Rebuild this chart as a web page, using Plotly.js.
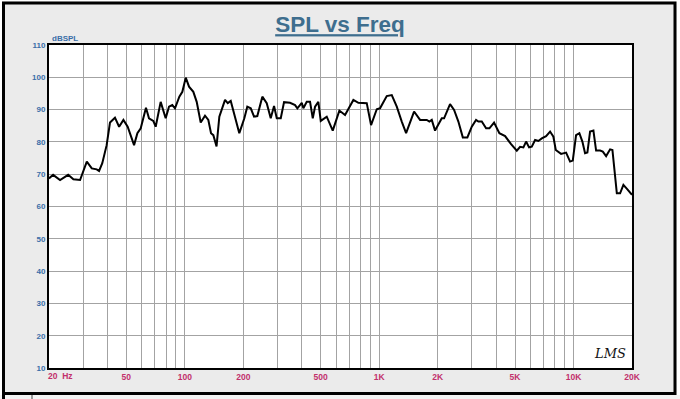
<!DOCTYPE html>
<html>
<head>
<meta charset="utf-8">
<script src="https://cdn.plot.ly/plotly-3.0.1.min.js"></script>
<style>
  html, body { margin: 0; padding: 0; background: #ffffff; }
  #chart { width: 680px; height: 399px; }
</style>
</head>
<body>
<div id="chart"></div>
<script>
// ---- data ----
const freqHz = [20.0, 21.0, 22.8, 25.1, 26.7, 28.9, 31.3, 33.2, 35.2, 36.2, 37.6, 39.6, 41.2, 43.7, 45.9, 48.3, 50.8, 54.8, 57.0, 59.3,
  63.1, 65.4, 68.8, 70.8, 75.1, 79.7, 82.9, 86.2, 89.0, 93.7, 97.1, 101.1, 105.1, 110.6, 115.1, 120.7, 127.0, 132.1, 136.4, 140.2,
  145.6, 150.5, 161.0, 166.3, 172.3, 181.3, 190.7, 202.4, 209.6, 218.4, 227.1, 236.0, 250.5, 263.9, 276.7, 287.8, 297.2, 311.6, 324.0, 347.8,
  369.2, 379.4, 399.7, 407.3, 424.0, 440.9, 455.3, 467.8, 486.4, 500.5, 537.4, 576.9, 624.0, 667.6, 736.6, 781.6, 863.2, 908.3, 972.0, 1010,
  1094, 1161, 1232, 1307, 1376, 1512, 1624, 1758, 1813, 1865, 1939, 2100, 2158, 2316, 2430, 2556, 2694, 2844, 2996, 3152,
  3240, 3373, 3550, 3692, 3902, 4155, 4447, 4773, 5107, 5311, 5523, 5702, 5908, 6100, 6344, 6596, 6869, 7228, 7577, 7880,
  8106, 8632, 9159, 9603, 9915, 10310, 10720, 11110, 11470, 11790, 12170, 12660, 13070, 13710, 14150, 14720, 15430, 15860, 16710, 17370,
  18060, 18940, 20000];
const splDb = [68.7, 69.8, 68.2, 69.8, 68.4, 68.2, 73.9, 71.8, 71.5, 71.0, 73.4, 79.0, 86.0, 87.5, 84.7, 86.8, 84.7, 79.0, 82.7, 84.2,
  90.6, 87.3, 86.5, 84.7, 92.4, 87.3, 90.9, 91.4, 90.4, 94.0, 95.5, 99.9, 97.1, 95.5, 92.4, 86.0, 88.1, 86.8, 82.7, 82.1,
  78.6, 87.8, 93.0, 92.0, 92.7, 87.3, 82.7, 87.3, 90.9, 90.4, 87.8, 88.0, 94.0, 92.0, 87.3, 91.1, 87.3, 87.3, 92.3, 92.1,
  91.4, 90.4, 92.1, 90.4, 92.4, 92.4, 87.3, 90.9, 92.4, 86.5, 87.8, 83.5, 89.7, 88.3, 93.0, 92.1, 92.0, 85.2, 90.1, 90.4,
  94.2, 94.5, 90.9, 86.3, 82.7, 89.4, 86.8, 86.8, 86.3, 86.8, 83.5, 87.3, 87.3, 91.7, 89.9, 86.3, 81.4, 81.4, 84.7, 86.8,
  86.3, 86.3, 84.2, 84.2, 86.0, 82.7, 81.8, 79.3, 77.3, 78.5, 78.3, 80.1, 78.3, 78.5, 80.6, 80.3, 81.1, 81.8, 83.2, 81.6,
  77.5, 76.3, 76.7, 73.9, 74.2, 82.1, 82.7, 80.1, 76.5, 76.7, 83.2, 83.5, 77.3, 77.3, 77.0, 75.6, 77.7, 77.5, 64.1, 64.1,
  66.7, 65.3, 63.6];

const xTickVals = [50, 100, 200, 500, 1000, 2000, 5000, 10000, 20000];
const xTickText = ['50', '100', '200', '500', '1K', '2K', '5K', '10K', '20K'];
const xGridVals = [20, 30, 40, 50, 60, 70, 80, 90, 100, 200, 300, 400, 500, 600, 700, 800, 900,
  1000, 2000, 3000, 4000, 5000, 6000, 7000, 8000, 9000, 10000, 20000];
const yTickVals = [10, 20, 30, 40, 50, 60, 70, 80, 90, 100, 110];
const firstXLabel = '20&nbsp; Hz';
const yUnitLabel = 'dBSPL';
const chartTitle = 'SPL vs Freq';
const logoText = 'LMS';

// ---- layout geometry (pixels) ----
const W = 680, H = 399, ML = 49, MR = 48, MT = 45, MB = 31;
const PW = W - ML - MR, PH = H - MT - MB;
const px = x => (x - ML) / PW;
const py = y => (H - MB - y) / PH;

const FONT = '"Liberation Sans", Arial, sans-serif';
const BLUE = '#3a6ea8';
const MAG = '#c2306c';
const GRID = '#a3a3a3';

const trace = {
  x: freqHz, y: splDb, type: 'scatter', mode: 'lines',
  line: { color: '#000000', width: 2 },
  hoverinfo: 'skip'
};

const layout = {
  width: W, height: H,
  margin: { l: ML, r: MR, t: MT, b: MB, pad: 0 },
  paper_bgcolor: '#ebebeb',
  plot_bgcolor: '#ffffff',
  showlegend: false,
  font: { family: FONT },
  title: {
    text: '<u><b>' + chartTitle + '</b></u>',
    font: { family: FONT, size: 22.5, color: '#3e6e8e' },
    x: 0.5, xanchor: 'center', xref: 'container',
    y: 1 - 24.3 / H, yanchor: 'middle', yref: 'container'
  },
  xaxis: {
    type: 'log',
    range: [Math.log10(20), Math.log10(20000)],
    tickmode: 'array', tickvals: xTickVals, ticktext: xTickText,
    ticks: '', showgrid: true, gridcolor: GRID, gridwidth: 1,
    minor: { tickmode: 'array', tickvals: xGridVals, showgrid: true, gridcolor: GRID, gridwidth: 1, ticks: '' },
    showline: true, linecolor: '#000000', linewidth: 2, mirror: true,
    zeroline: false,
    tickfont: { family: FONT, size: 8.5, color: MAG, weight: 'bold' },
    tickangle: 0
  },
  yaxis: {
    range: [10, 110],
    tickmode: 'array', tickvals: yTickVals,
    ticks: '', showgrid: true, gridcolor: GRID, gridwidth: 1,
    showline: true, linecolor: '#000000', linewidth: 2, mirror: true,
    zeroline: false,
    tickfont: { family: FONT, size: 8, color: BLUE, weight: 'bold' }
  },
  annotations: [
    { text: '<b>' + firstXLabel + '</b>', xref: 'paper', yref: 'paper', x: px(46), y: py(375.5),
      xanchor: 'left', yanchor: 'middle', showarrow: false,
      font: { family: FONT, size: 8.5, color: MAG } },
    { text: '<b>' + yUnitLabel + '</b>', xref: 'paper', yref: 'paper', x: px(50), y: py(38.5),
      xanchor: 'left', yanchor: 'middle', showarrow: false,
      font: { family: FONT, size: 8, color: BLUE } },
    { text: '<i>' + logoText + '</i>', xref: 'paper', yref: 'paper', x: px(610), y: py(353),
      xanchor: 'center', yanchor: 'middle', showarrow: false,
      font: { family: '"DejaVu Serif", serif', size: 13, color: '#111111' } }
  ],
  shapes: [
    // white outer strips
    { type: 'rect', xref: 'paper', yref: 'paper', x0: px(0), x1: px(2), y0: py(H), y1: py(0), fillcolor: '#ffffff', line: { width: 0 } },
    { type: 'rect', xref: 'paper', yref: 'paper', x0: px(676.5), x1: px(W), y0: py(H), y1: py(0), fillcolor: '#ffffff', line: { width: 0 } },
    { type: 'rect', xref: 'paper', yref: 'paper', x0: px(0), x1: px(W), y0: py(1.5), y1: py(0), fillcolor: '#ffffff', line: { width: 0 } },
    { type: 'rect', xref: 'paper', yref: 'paper', x0: px(0), x1: px(W), y0: py(H), y1: py(395), fillcolor: '#f4f4f4', line: { width: 0 } },
    // black frame
    { type: 'rect', xref: 'paper', yref: 'paper', x0: px(3.5), x1: px(675), y0: py(393.5), y1: py(3), line: { color: '#000000', width: 3 } },
    // frame continuation below
    { type: 'line', xref: 'paper', yref: 'paper', x0: px(3.5), x1: px(3.5), y0: py(393.5), y1: py(H), line: { color: '#000000', width: 3 } },
    { type: 'line', xref: 'paper', yref: 'paper', x0: px(32), x1: px(32), y0: py(395), y1: py(H), line: { color: '#444444', width: 1 } }
  ]
};

Plotly.newPlot('chart', [trace], layout, { displayModeBar: false, staticPlot: true });
</script>
</body>
</html>
